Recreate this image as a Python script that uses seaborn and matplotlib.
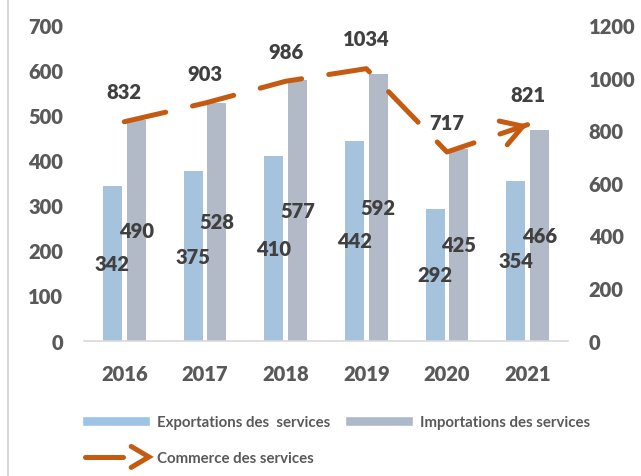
import numpy as np
import pandas as pd
import matplotlib
matplotlib.use("Agg")
import matplotlib.pyplot as plt
import seaborn as sns
from matplotlib.patches import Patch
from matplotlib.lines import Line2D
from matplotlib.legend_handler import HandlerBase

# Data
years = ["2016", "2017", "2018", "2019", "2020", "2021"]
exportations = [342, 375, 410, 442, 292, 354]
importations = [490, 528, 577, 592, 425, 466]
commerce = [832, 903, 986, 1034, 717, 821]

lbl_exp = "Exportations des  services"
lbl_imp = "Importations des services"
lbl_com = "Commerce des services"

c_exp = "#9DC3E6"
c_imp = "#ADB9CA"
c_com = "#C55A11"

sns.set_style("white")
plt.rcParams['font.family'] = 'Lato'
plt.rcParams['font.weight'] = 800

df = pd.DataFrame({
    "annee": years * 2,
    "valeur": exportations + importations,
    "serie": [lbl_exp] * len(years) + [lbl_imp] * len(years),
})

fig = plt.figure(figsize=(6.41, 4.77), dpi=100)
ax = fig.add_axes([0.131, 0.284, 0.755, 0.6615])

sns.barplot(data=df, x="annee", y="valeur", hue="serie",
            palette=[c_exp, c_imp], width=0.59, gap=0.2,
            linewidth=0, ax=ax, legend=False)
ax.set_xlim(-0.5, 5.5)
ax.set_ylim(0, 700)
ax.set_yticks(range(0, 701, 100))
ax.set_xlabel("")
ax.set_ylabel("")

fs = 14.5
for cont in ax.containers:
    ax.bar_label(cont, label_type="center", fontsize=fs, fontweight=800,
                 color="#404040")

# Line on secondary axis
ax2 = ax.twinx()
xpos = np.arange(len(years))
sns.lineplot(x=xpos, y=commerce, ax=ax2, color=c_com, linewidth=3.6,
             dashes=False, solid_capstyle="round")
ax2.lines[0].set_linestyle((0, (8.5, 5.5)))
ax2.lines[0].set_dash_capstyle("round")
ax2.annotate("", xy=(xpos[-1], commerce[-1]),
             xytext=(xpos[-1] - 0.12, commerce[-1] - 0.12 * (commerce[-1] - commerce[-2])),
             arrowprops=dict(arrowstyle="->,head_length=1.5,head_width=0.9",
                             color=c_com, lw=3.6, capstyle="round",
                             joinstyle="round", shrinkA=0, shrinkB=0))
for x, v in zip(xpos, commerce):
    ax2.annotate(str(v), xy=(x, v), xytext=(0, 21.5), textcoords="offset points",
                 ha="center", va="center", fontsize=fs, fontweight=800,
                 color="#404040")
ax2.set_ylim(0, 1200)
ax2.set_yticks(range(0, 1201, 200))

for a in (ax, ax2):
    for s in a.spines.values():
        s.set_visible(False)
    a.tick_params(length=0, labelsize=fs, labelcolor="#595959")
ax.spines["bottom"].set_visible(True)
ax.spines["bottom"].set_color("#D9D9D9")
ax.spines["bottom"].set_linewidth(1.2)
ax.tick_params(axis="y", pad=15)
ax.tick_params(axis="x", pad=17)
ax2.tick_params(axis="y", pad=15)


class ArrowHandler(HandlerBase):
    def create_artists(self, legend, orig, xd, yd, width, height, fontsize, trans):
        y = yd + height / 2
        shaft = Line2D([xd + 2, xd + width * 0.6], [y, y], color=c_com, lw=3.6,
                       solid_capstyle="round", transform=trans)
        head = Line2D([xd + width * 0.72, xd + width - 1, xd + width * 0.72],
                      [y + height * 1.0, y, y - height * 1.0], color=c_com, lw=3.6,
                      solid_capstyle="round", solid_joinstyle="miter", transform=trans)
        return [shaft, head]


h_exp = Patch(facecolor=c_exp, label=lbl_exp)
h_imp = Patch(facecolor=c_imp, label=lbl_imp)
h_com = Line2D([], [], color=c_com, label=lbl_com)
fig.legend(handles=[h_exp, h_com, h_imp], labels=[lbl_exp, lbl_com, lbl_imp],
           handler_map={h_com: ArrowHandler()},
           loc="upper left", bbox_to_anchor=(0.128, 0.127), ncol=2,
           frameon=False, borderpad=0, borderaxespad=0,
           prop={"family": "Lato", "weight": "bold", "size": 10.8},
           handlelength=4.55, handletextpad=0.45, columnspacing=0.95,
           labelspacing=1.45, labelcolor="#595959")

fig.add_artist(Line2D([0.012, 0.012], [0, 1], transform=fig.transFigure,
                      color="#D9D9D9", lw=1.5))

fig.savefig("out.png", dpi=100)
